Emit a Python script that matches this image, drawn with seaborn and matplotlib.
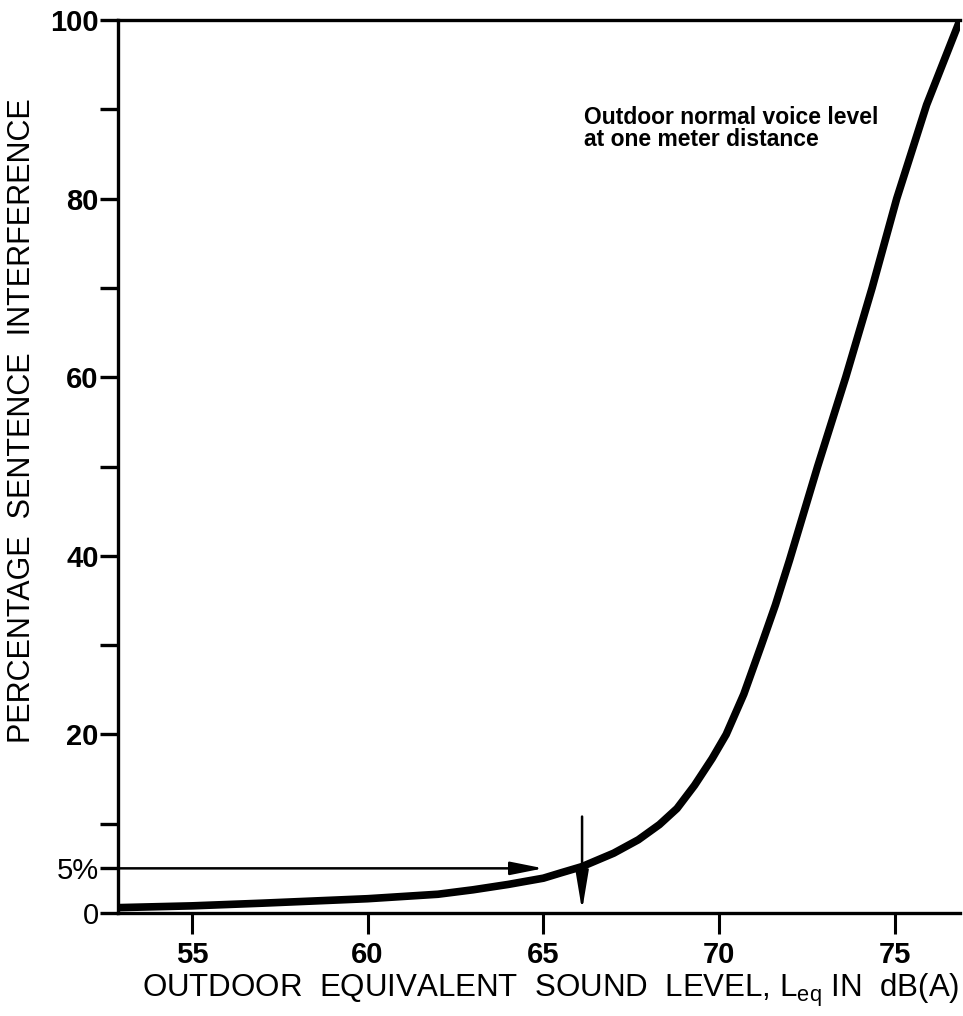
import matplotlib
matplotlib.use("Agg")
import matplotlib.pyplot as plt
import seaborn as sns
import pandas as pd

# ---- data ----
level_db = [52.9, 55.0, 57.0, 60.0, 62.0, 63.0, 64.0, 65.0, 65.5, 66.1, 67.0, 67.7,
            68.3, 68.8, 69.3, 69.8, 70.2, 70.7, 71.2, 71.6, 72.0, 72.8, 73.6, 74.35,
            75.05, 75.9, 76.85]
interference_pct = [0.6, 0.8, 1.1, 1.6, 2.1, 2.6, 3.2, 3.9, 4.5, 5.2, 6.7, 8.2,
                    9.9, 11.7, 14.3, 17.3, 20.0, 24.5, 30.0, 34.5, 39.5, 50.0, 60.0, 70.0,
                    80.0, 90.5, 100.0]
x_ticks = [55, 60, 65, 70, 75]
x_tick_labels = ["55", "60", "65", "70", "75"]
y_ticks = [0, 5, 10, 20, 30, 40, 50, 60, 70, 80, 90, 100]
y_tick_labels = ["0", "5%", "", "20", "", "40", "", "60", "", "80", "", "100"]
criterion_pct = 5
criterion_level = 66.1
annotation_text = "Outdoor normal voice level\nat one meter distance"
x_label = "OUTDOOR  EQUIVALENT  SOUND  LEVEL, $\\mathregular{L_{eq}}$ IN  dB(A)"
y_label = "PERCENTAGE  SENTENCE  INTERFERENCE"

df = pd.DataFrame({"level": level_db, "pct": interference_pct})

sns.set_style("ticks")
plt.rcParams['font.family'] = ['Liberation Sans', 'DejaVu Sans']
plt.rcParams['text.color'] = 'black'
plt.rcParams['axes.labelcolor'] = 'black'
plt.rcParams['xtick.color'] = 'black'
plt.rcParams['ytick.color'] = 'black'

W, H = 963, 1016
fig = plt.figure(figsize=(W / 100, H / 100), dpi=100)
ax = fig.add_axes([118 / W, 103 / H, (960 - 118) / W, (996 - 103) / H])

sns.lineplot(data=df, x="level", y="pct", ax=ax, color="black", lw=5.5,
             solid_capstyle="round", solid_joinstyle="round", sort=False)

ax.set_xlim(52.9, 76.85)
ax.set_ylim(0, 100)

for s in ["left", "top", "bottom"]:
    ax.spines[s].set_linewidth(2.4)
    ax.spines[s].set_color("black")
ax.spines["right"].set_visible(False)

ax.set_xticks(x_ticks)
ax.set_xticklabels(x_tick_labels, fontsize=21, fontweight="bold")
ax.set_yticks(y_ticks)
ax.set_yticklabels(y_tick_labels, fontsize=21)
for lab, txt in zip(ax.get_yticklabels(), y_tick_labels):
    if txt in ("0", "5%"):
        lab.set_fontweight("normal")
    else:
        lab.set_fontweight("bold")

ax.tick_params(axis="y", direction="out", length=13, width=2.4, pad=1, colors="black")
ax.tick_params(axis="x", direction="out", length=15, width=2.2, pad=5, colors="black")
ax.set_xlabel("")
ax.set_ylabel("")

fig.text(551 / W, 1 - 990 / H, x_label, fontsize=22.5, ha="center", va="center")
fig.text(22 / W, 1 - 421 / H, y_label, fontsize=22, rotation=90, ha="center", va="center")

ax.text(66.16, 90.4, annotation_text, fontsize=16.5, ha="left", va="top",
        linespacing=0.95, fontweight="semibold")

# 5% criterion arrows
ax.annotate("", xy=(65.0, criterion_pct), xytext=(52.9, criterion_pct),
            arrowprops=dict(arrowstyle="-|>,head_length=1.0,head_width=0.2", lw=1.8,
                            color="black", shrinkA=0, shrinkB=0, mutation_scale=20))
ax.annotate("", xy=(criterion_level, 0.3), xytext=(criterion_level, 10.8),
            arrowprops=dict(arrowstyle="-|>,head_length=1.2,head_width=0.2", lw=1.8,
                            color="black", shrinkA=0, shrinkB=0, mutation_scale=20))

fig.savefig("out.png", dpi=100)
